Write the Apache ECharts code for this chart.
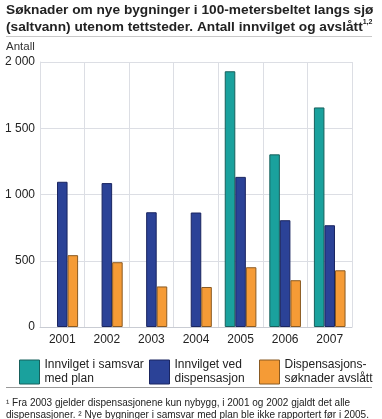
<!DOCTYPE html>
<html><head><meta charset="utf-8">
<script src="https://cdn.jsdelivr.net/npm/echarts@6/dist/echarts.min.js"></script>
<style>html,body{margin:0;padding:0;background:#fff}#c{width:382px;height:419px}</style>
</head><body><div id="c"></div>
<script>
const categories = ['2001','2002','2003','2004','2005','2006','2007'];
const samsvar = [null, null, null, null, 1930, 1303, 1657];
const dispensasjon = [1096, 1086, 866, 864, 1133, 806, 768];
const avslatt = [542, 489, 306, 302, 451, 353, 428];
const yTicks = [0, 500, 1000, 1500, 2000];
const seriesNames = ['Innvilget i samsvar med plan', 'Innvilget ved dispensasjon', 'Dispensasjonssøknader avslått'];
const legendLabels = ['Innvilget i samsvar\nmed plan', 'Innvilget ved\ndispensasjon', 'Dispensasjons-\nsøknader avslått'];

const colors = ['#1aa19d', '#2b4297', '#f59b36'];
const borders = ['#17605c', '#1a2560', '#8a5a22'];
const font = '"Liberation Sans", Arial, sans-serif';

const chart = echarts.init(document.getElementById('c'));
const fmt = v => String(v).replace(/\B(?=(\d{3})+(?!\d))/g, ' ');
const legendLefts = [19, 149, 259];

chart.setOption({
  animation: false,
  textStyle: { fontFamily: font },
  title: [
    {
      text: '{t|Søknader om nye bygninger i 100-metersbeltet langs sjø}\n{t|(saltvann) utenom tettsteder. Antall innvilget og avslått}{s|1,2}',
      left: 6, top: 2, padding: 0,
      textStyle: {
        rich: {
          t: { fontFamily: font, fontWeight: 'bold', fontSize: 13.7, color: '#222', lineHeight: 17 },
          s: { fontFamily: font, fontSize: 7, color: '#222', verticalAlign: 'top', lineHeight: 17 }
        }
      }
    },
    {
      text: 'Antall', left: 6, top: 41, padding: 0,
      textStyle: { fontFamily: font, fontWeight: 'normal', fontSize: 11.5, color: '#333' }
    },
    {
      text: '¹ Fra 2003 gjelder dispensasjonene kun nybygg, i 2001 og 2002 gjaldt det alle\ndispensasjoner. ² Nye bygninger i samsvar med plan ble ikke rapportert før i 2005.',
      left: 6, top: 397, padding: 0,
      textStyle: { fontFamily: font, fontWeight: 'normal', fontSize: 10, color: '#222', lineHeight: 12 }
    }
  ],
  legend: seriesNames.map((n, i) => ({
    data: [{ name: n, icon: 'rect', itemStyle: { color: colors[i], borderColor: borders[i], borderWidth: 1 } }],
    left: legendLefts[i], top: 358, padding: 0,
    itemWidth: 20, itemHeight: 24, itemGap: 0,
    selectedMode: false,
    formatter: () => legendLabels[i],
    textStyle: { fontFamily: font, fontSize: 12, color: '#222', lineHeight: 14 }
  })),
  grid: { left: 40, right: 30, top: 62, bottom: 92 },
  xAxis: {
    type: 'category', data: categories,
    axisLine: { lineStyle: { color: '#c9ccd3' } },
    axisTick: { show: false },
    axisLabel: { color: '#222', fontSize: 12, margin: 7, fontFamily: font },
    splitLine: { show: true, lineStyle: { color: '#dcdee4' } }
  },
  yAxis: {
    type: 'value', min: 0, max: 2000, interval: 500,
    axisLine: { show: true, lineStyle: { color: '#dcdee4' } },
    axisTick: { show: false },
    axisLabel: { color: '#222', fontSize: 12, margin: 5, fontFamily: font, formatter: v => fmt(v) },
    splitLine: { lineStyle: { color: '#dcdee4' } }
  },
  series: [samsvar, dispensasjon, avslatt].map((d, i) => ({
    name: seriesNames[i], type: 'bar', data: d,
    barGap: '0%', barCategoryGap: '29%',
    itemStyle: { color: colors[i], borderColor: borders[i], borderWidth: 1 }
  })),
  graphic: [
    { type: 'line', shape: { x1: 6, y1: 36.5, x2: 372, y2: 36.5 }, style: { stroke: '#c8c8c8', lineWidth: 1 } },
    { type: 'line', shape: { x1: 6, y1: 387.5, x2: 372, y2: 387.5 }, style: { stroke: '#999', lineWidth: 1 } },
    { type: 'line', shape: { x1: 352.5, y1: 62, x2: 352.5, y2: 327 }, style: { stroke: '#dcdee4', lineWidth: 1 } }
  ]
});
</script></body></html>
